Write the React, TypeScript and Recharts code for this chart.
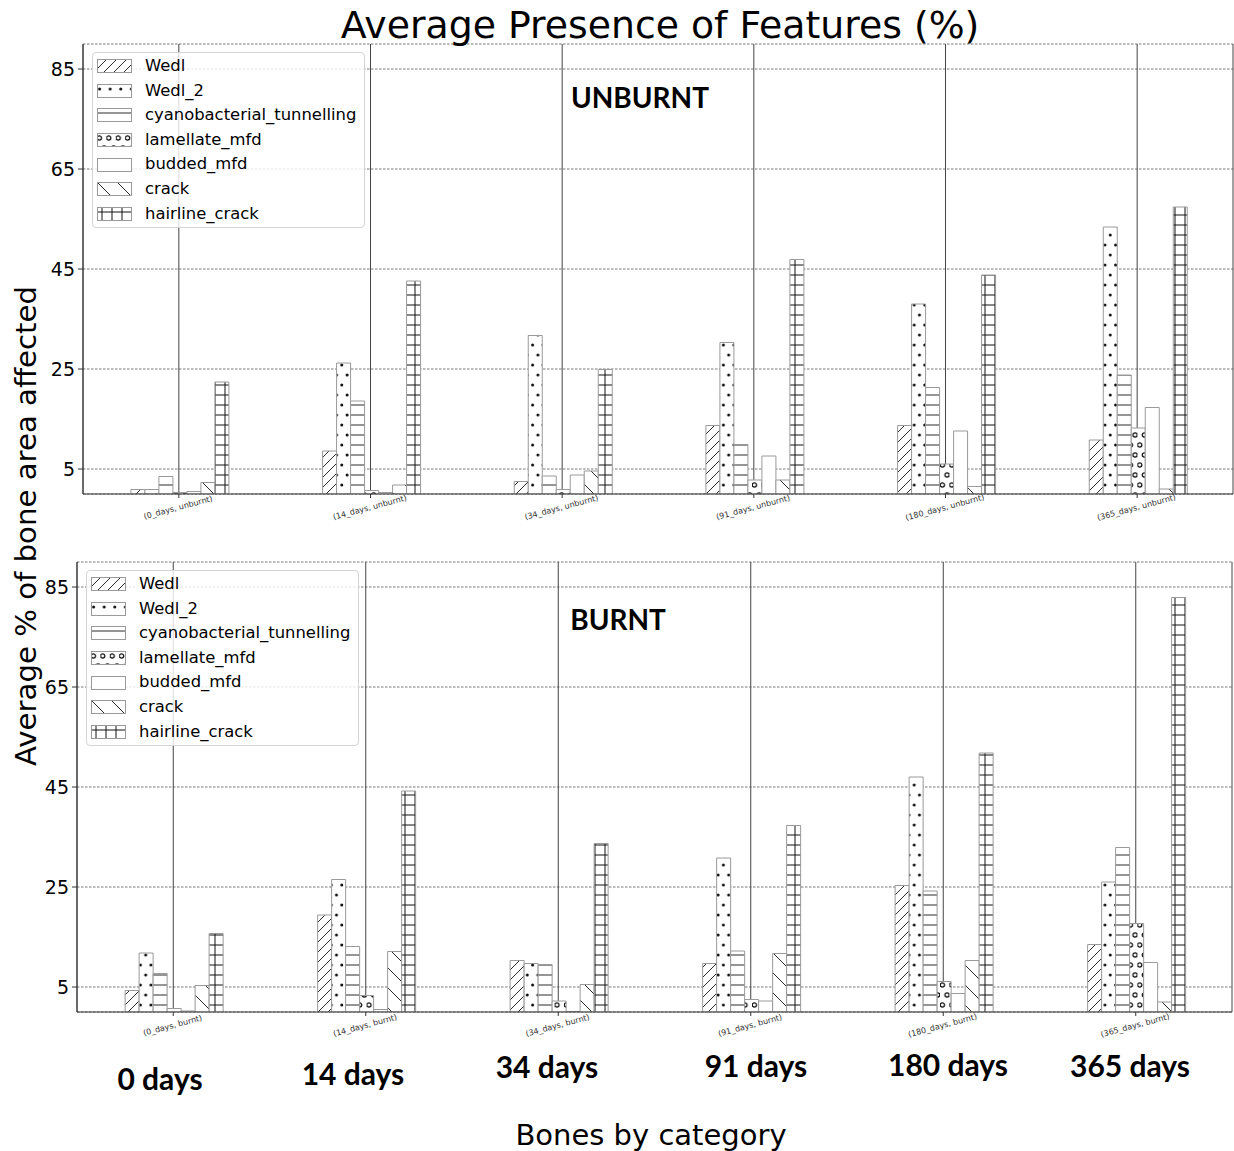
import React from 'react';
import { BarChart, Bar, XAxis, YAxis, CartesianGrid, Legend } from 'recharts';

const days = ['0_days', '14_days', '34_days', '91_days', '180_days', '365_days'];
const dayLabels = ['0 days', '14 days', '34 days', '91 days', '180 days', '365 days'];
const seriesNames = ['Wedl', 'Wedl_2', 'cyanobacterial_tunnelling', 'lamellate_mfd', 'budded_mfd', 'crack', 'hairline_crack'];
const seriesKeys = ['wedl', 'wedl2', 'cyano', 'lamellate', 'budded', 'crack', 'hairline'];
const yTicks = [5, 25, 45, 65, 85];

// UNBURNT
const unburntWedl = [0.9, 8.6, 2.5, 13.7, 13.7, 10.8];
const unburntWedl2 = [0.9, 26.2, 31.7, 30.3, 38.0, 53.4];
const unburntCyano = [3.5, 18.6, 3.6, 9.9, 21.3, 23.8];
const unburntLamellate = [0.3, 0.7, 0.9, 2.8, 6.0, 13.2];
const unburntBudded = [0.5, 0.3, 3.8, 7.6, 12.6, 17.3];
const unburntCrack = [2.3, 1.8, 4.6, 2.8, 1.5, 1.0];
const unburntHairline = [22.4, 42.6, 24.9, 46.9, 43.8, 57.4];

// BURNT
const burntWedl = [4.3, 19.4, 10.3, 9.7, 25.3, 13.5];
const burntWedl2 = [11.8, 26.5, 9.7, 30.8, 47.0, 26.0];
const burntCyano = [7.7, 13.1, 9.5, 12.2, 24.2, 32.9];
const burntLamellate = [0.7, 3.3, 2.2, 2.5, 6.1, 17.7];
const burntBudded = [0.2, 0.5, 0.1, 2.2, 3.7, 9.9];
const burntCrack = [5.3, 12.1, 5.5, 11.7, 10.3, 2.0];
const burntHairline = [15.7, 44.2, 33.7, 37.3, 51.8, 82.9];

const unburntSeries = [unburntWedl, unburntWedl2, unburntCyano, unburntLamellate, unburntBudded, unburntCrack, unburntHairline];
const burntSeries = [burntWedl, burntWedl2, burntCyano, burntLamellate, burntBudded, burntCrack, burntHairline];

const buildData = (series: number[][], state: string) =>
  days.map((d, i) => {
    const row: Record<string, any> = { tick: `(${d}, ${state})` };
    seriesKeys.forEach((k, j) => {
      row[k] = series[j][i];
    });
    return row;
  });

const unburntData = buildData(unburntSeries, 'unburnt');
const burntData = buildData(burntSeries, 'burnt');

const patternIds = ['p-wedl', 'p-wedl2', 'p-cyano', 'p-lam', 'p-budded', 'p-crack', 'p-hair'];

const HATCH = '#111';
const EDGE = '#9a9a9a';
const SANS = "'DejaVu Sans', sans-serif";
const BOLD = "Lato, 'Open Sans', sans-serif";

const Patterns = () => (
  <svg width={0} height={0} style={{ position: 'absolute' }}>
    <defs>
      <pattern id="p-wedl" patternUnits="userSpaceOnUse" width={10} height={10}>
        <rect width={10} height={10} fill="#fff" />
        <path d="M-2,2 L2,-2 M0,10 L10,0 M8,12 L12,8" stroke={HATCH} strokeWidth={0.9} />
      </pattern>
      <pattern id="p-wedl2" patternUnits="userSpaceOnUse" width={10.6} height={20}>
        <rect width={10.6} height={20} fill="#fff" />
        <circle cx={2.6} cy={5} r={1.5} fill={HATCH} />
        <circle cx={7.9} cy={15} r={1.5} fill={HATCH} />
      </pattern>
      <pattern id="p-cyano" patternUnits="userSpaceOnUse" width={10} height={10}>
        <rect width={10} height={10} fill="#fff" />
        <path d="M0,5 H10" stroke={HATCH} strokeWidth={0.9} />
      </pattern>
      <pattern id="p-lam" patternUnits="userSpaceOnUse" width={9.4} height={20}>
        <rect width={9.4} height={20} fill="#fff" />
        <circle cx={2.35} cy={5} r={2.1} fill="none" stroke={HATCH} strokeWidth={1.3} />
        <circle cx={7.05} cy={15} r={2.1} fill="none" stroke={HATCH} strokeWidth={1.3} />
      </pattern>
      <pattern id="p-budded" patternUnits="userSpaceOnUse" width={10} height={10}>
        <rect width={10} height={10} fill="#fff" />
      </pattern>
      <pattern id="p-crack" patternUnits="userSpaceOnUse" width={20} height={20}>
        <rect width={20} height={20} fill="#fff" />
        <path d="M0,0 L20,20 M-2,18 L2,22 M18,-2 L22,2" stroke={HATCH} strokeWidth={0.9} />
      </pattern>
      <pattern id="p-hair" patternUnits="userSpaceOnUse" width={10} height={10}>
        <rect width={10} height={10} fill="#fff" />
        <path d="M0,5 H10 M5,0 V10" stroke={HATCH} strokeWidth={1} />
      </pattern>
    </defs>
  </svg>
);

const LegendBox = () => (
  <div
    style={{
      background: 'rgba(255,255,255,0.8)',
      border: '1px solid #d4d4d4',
      borderRadius: 4,
      padding: '1px 6px 1px 4px',
      fontFamily: SANS,
      fontSize: 16.4,
      color: '#000',
      width: 261,
      boxSizing: 'content-box',
    }}
  >
    {seriesNames.map((name, i) => (
      <div key={name} style={{ display: 'flex', alignItems: 'center', height: 24.6 }}>
        <svg width={35} height={14} style={{ marginRight: 13, flex: 'none' }}>
          <rect x={0.5} y={0.5} width={34} height={13} fill={`url(#${patternIds[i]})`} stroke={EDGE} strokeWidth={1} />
        </svg>
        <span style={{ whiteSpace: 'nowrap', lineHeight: 1 }}>{name}</span>
      </div>
    ))}
  </div>
);

const XTick = (props: any) => {
  const { x, y, payload } = props;
  const ty = y + 10;
  return (
    <text
      x={x}
      y={ty}
      textAnchor="middle"
      fontSize={8}
      fontFamily={SANS}
      fill="#333"
      transform={`rotate(-15 ${x} ${ty})`}
    >
      {payload.value}
    </text>
  );
};

const Panel = ({
  data,
  height,
  margin,
  yWidth,
  xHeight,
  legendPos,
}: {
  data: any[];
  height: number;
  margin: { top: number; right: number; bottom: number; left: number };
  yWidth: number;
  xHeight: number;
  legendPos: { left: number; top: number };
}) => (
  <BarChart width={1234} height={height} data={data} margin={margin} barGap={0} barCategoryGap="25%">
    <CartesianGrid horizontal={true} vertical={false} stroke="#555" strokeWidth={0.8} strokeDasharray="2.5 1.5" />
    <CartesianGrid horizontal={false} vertical={true} stroke="#444" strokeWidth={1} />
    <XAxis
      dataKey="tick"
      height={xHeight}
      interval={0}
      tick={<XTick />}
      tickSize={4}
      tickLine={{ stroke: '#333' }}
      axisLine={{ stroke: '#333' }}
    />
    <XAxis xAxisId="top" orientation="top" dataKey="tick" height={0} tick={false} tickLine={false} axisLine={{ stroke: '#333' }} />
    <YAxis
      type="number"
      domain={[0, 90]}
      ticks={yTicks}
      interval={0}
      width={yWidth}
      tickSize={5}
      tickMargin={3}
      tick={{ fontSize: 19, fill: '#000', fontFamily: SANS }}
      tickLine={{ stroke: '#333' }}
      axisLine={{ stroke: '#333' }}
      allowDataOverflow
    />
    <YAxis yAxisId="right" orientation="right" width={0} domain={[0, 90]} tick={false} tickLine={false} axisLine={{ stroke: '#333' }} />
    <Legend
      layout="vertical"
      align="center"
      verticalAlign="middle"
      content={() => <LegendBox />}
      wrapperStyle={{ left: legendPos.left, top: legendPos.top, width: 'auto', height: 'auto' }}
    />
    {seriesKeys.map((k, i) => (
      <Bar
        key={k}
        dataKey={k}
        name={seriesNames[i]}
        fill={`url(#${patternIds[i]})`}
        stroke={EDGE}
        strokeWidth={1}
        isAnimationActive={false}
      />
    ))}
  </BarChart>
);

const Label = ({
  x,
  y,
  text,
  size,
  family,
  weight = 400,
  rotate = 0,
}: {
  x: number;
  y: number;
  text: string;
  size: number;
  family: string;
  weight?: number;
  rotate?: number;
}) => (
  <div
    style={{
      position: 'absolute',
      left: x,
      top: y,
      transform: `translate(-50%, -50%) rotate(${rotate}deg)`,
      fontSize: size,
      fontFamily: family,
      fontWeight: weight,
      lineHeight: 1,
      whiteSpace: 'nowrap',
      color: '#000',
    }}
  >
    {text}
  </div>
);

const dayLabelPos = [
  [160, 1078],
  [353, 1073],
  [547, 1066],
  [756, 1065],
  [948, 1064],
  [1130, 1065],
];

export default function App() {
  return (
    <div style={{ position: 'absolute', left: 0, top: 0, width: 1234, height: 1151, background: '#fff', overflow: 'hidden' }}>
      <Patterns />
      <div style={{ position: 'absolute', left: 0, top: 0 }}>
        <Panel
          data={unburntData}
          height={540}
          margin={{ top: 44, right: 1, bottom: 16, left: 0 }}
          yWidth={83}
          xHeight={30}
          legendPos={{ left: 92, top: 52 }}
        />
      </div>
      <div style={{ position: 'absolute', left: 0, top: 540 }}>
        <Panel
          data={burntData}
          height={500}
          margin={{ top: 22, right: 2, bottom: 8, left: 0 }}
          yWidth={77}
          xHeight={20}
          legendPos={{ left: 86, top: 30 }}
        />
      </div>
      <Label x={660} y={26} text="Average Presence of Features (%)" size={37.8} family={SANS} />
      <Label x={640} y={97} text="UNBURNT" size={28} family={BOLD} weight={700} />
      <Label x={618} y={619} text="BURNT" size={28} family={BOLD} weight={700} />
      <Label x={27} y={526} text="Average % of bone area affected" size={29.2} family={SANS} rotate={-90} />
      <Label x={651} y={1135} text="Bones by category" size={29} family={SANS} />
      {dayLabels.map((t, i) => (
        <Label key={t} x={dayLabelPos[i][0]} y={dayLabelPos[i][1]} text={t} size={30} family={BOLD} weight={700} />
      ))}
    </div>
  );
}
